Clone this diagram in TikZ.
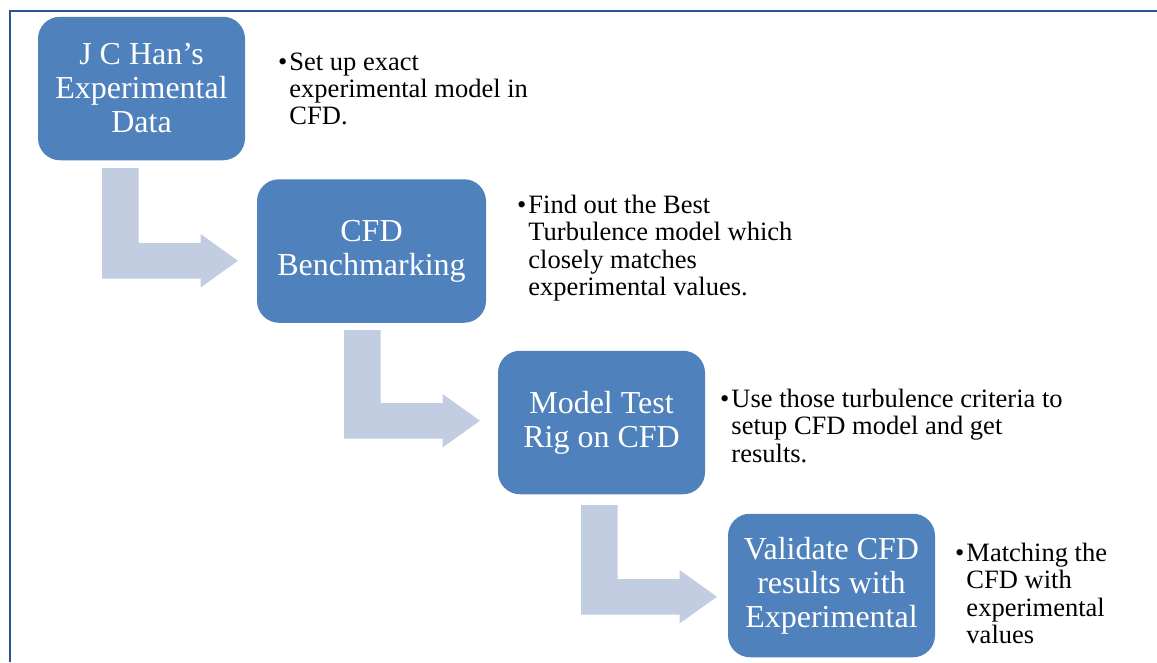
\documentclass[tikz,border=0pt]{standalone}
\usepackage{fontspec}
\setmainfont{Liberation Serif}
\definecolor{boxblue}{RGB}{79,129,189}
\definecolor{arrowgray}{RGB}{195,205,225}
\definecolor{frameblue}{RGB}{40,85,150}
% bent arrow: #1 stem left x, #2 top y, #3 bar top y, #4 tip x
\newcommand\bentarr[4]{%
  \fill[arrowgray] (#1,#2) -- (#1+36.5,#2) -- (#1+36.5,#3) -- (#4-37.5,#3)
    -- (#4-37.5,#3-9) -- (#4,#3+17.75) -- (#4-37.5,#3+44.5)
    -- (#4-37.5,#3+35.5) -- (#1,#3+35.5) -- cycle;}
\begin{document}
\begin{tikzpicture}[x=1pt,y=-1pt,
  stepbox/.style={fill=boxblue, rounded corners=22pt, inner sep=0pt,
    text=white, align=center, font=\fontsize{32}{34}\selectfont,
    minimum height=143.5pt},
  bullettext/.style={anchor=base west, inner sep=0pt, text=black,
    font=\fontsize{26.5}{#1}\selectfont},
  bullettext/.default=27.5]
\useasboundingbox (0,0) rectangle (1157,662);
\fill[white] (0,0) rectangle (1157,662);
% frame
\draw[frameblue, line width=2pt] (9,10.5) -- (1157,10.5);
\draw[frameblue, line width=2pt] (10,9.5) -- (10,662);
% boxes
\node[stepbox, minimum width=207pt] (b1) at (141.5,88.5) {J C Han’s\\Experimental\\Data};
\node[stepbox, minimum width=229pt] (b2) at (371.5,251) {CFD\\Benchmarking};
\node[stepbox, minimum width=207pt] (b3) at (601.5,422.5) {Model Test\\Rig on CFD};
\node[stepbox, minimum width=207pt] (b4) at (831.5,585.5) {Validate CFD\\results with\\Experimental};
% bent arrows between steps
\bentarr{102}{168}{243}{238}
\bentarr{344}{330}{403}{480}
\bentarr{581}{505}{579}{717}
% bullet texts
\node[bullettext=27.2] (t1) at (278,70) {\begin{tabular}[t]{@{}l@{\hspace{2pt}}l@{}}\textbullet&Set up exact\\&experimental model in\\&CFD.\end{tabular}};
\node[bullettext=27.5] (t2) at (517,213) {\begin{tabular}[t]{@{}l@{\hspace{2pt}}l@{}}\textbullet&Find out the Best\\&Turbulence model which\\&closely matches\\&experimental values.\end{tabular}};
\node[bullettext=27.6] (t3) at (720,407) {\begin{tabular}[t]{@{}l@{\hspace{2pt}}l@{}}\textbullet&Use those turbulence criteria to\\&setup CFD model and get\\&results.\end{tabular}};
\node[bullettext=27.5] (t4) at (955,561) {\begin{tabular}[t]{@{}l@{\hspace{2pt}}l@{}}\textbullet&Matching the\\&CFD with\\&experimental\\&values\end{tabular}};
\end{tikzpicture}
\end{document}
